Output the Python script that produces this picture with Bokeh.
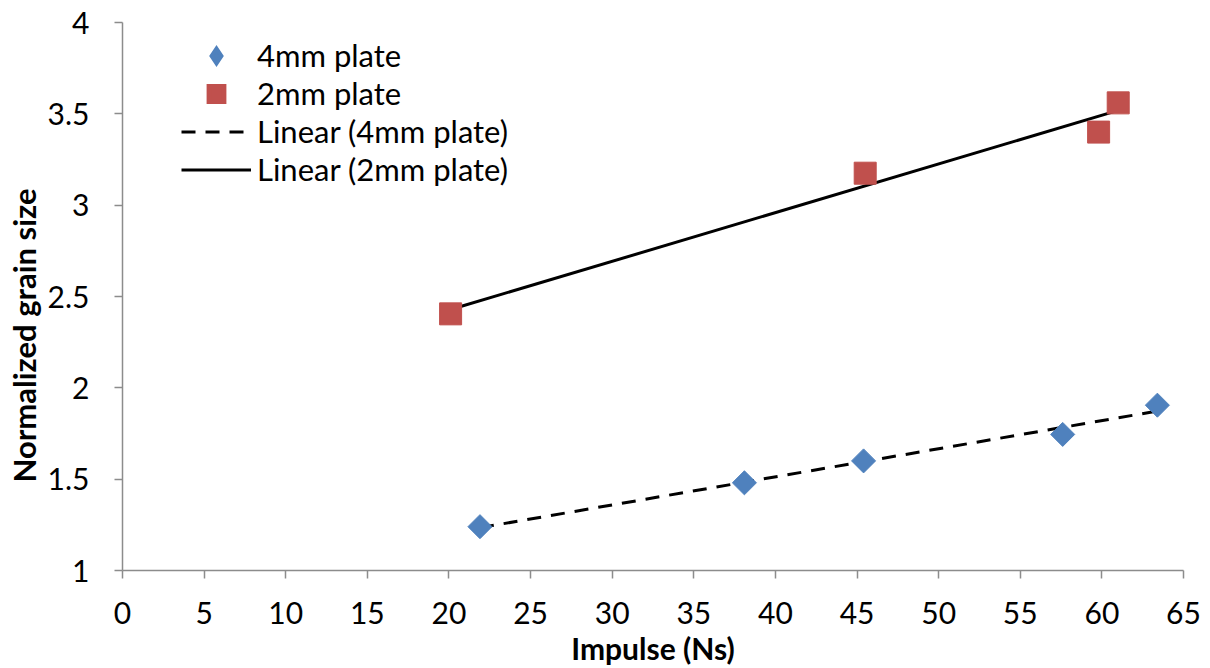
import numpy as np
from bokeh.plotting import figure
from bokeh.models import Range1d, FixedTicker, Legend, LegendItem, Title, ColumnDataSource
from bokeh.embed import file_html
from bokeh.resources import INLINE

# Data
x_4mm = [21.9, 38.1, 45.4, 57.6, 63.4]
y_4mm = [1.24, 1.48, 1.60, 1.745, 1.905]
x_2mm = [20.1, 45.5, 59.8, 61.0]
y_2mm = [2.405, 3.175, 3.40, 3.56]

x_ticks = [0, 5, 10, 15, 20, 25, 30, 35, 40, 45, 50, 55, 60, 65]
y_ticks = [1, 1.5, 2, 2.5, 3, 3.5, 4]
y_tick_labels = ["1", "1.5", "2", "2.5", "3", "3.5", "4"]

FONT = "Lato"
BLUE = "#4F81BD"
RED = "#C0504D"

p = figure(width=1210, height=668, output_backend="svg", toolbar_location=None,
           x_range=Range1d(0, 65), y_range=Range1d(1, 4),
           min_border_left=121, min_border_right=27, min_border_top=22, min_border_bottom=97)
p.outline_line_color = None
p.xgrid.visible = False
p.ygrid.visible = False

src4 = ColumnDataSource(dict(x=x_4mm, y=y_4mm))
src2 = ColumnDataSource(dict(x=x_2mm, y=y_2mm))

# trend lines (least squares fits)
k4, b4 = np.polyfit(x_4mm, y_4mm, 1)
k2, b2 = np.polyfit(x_2mm, y_2mm, 1)
tx4 = [min(x_4mm), max(x_4mm)]
tx2 = [min(x_2mm), max(x_2mm)]

r_l4 = p.line(tx4, [k4 * v + b4 for v in tx4], line_color="black", line_width=3, line_dash="14 10")
r_l2 = p.line(tx2, [k2 * v + b2 for v in tx2], line_color="black", line_width=3)

# legend keys: tiny marks drawn underneath the real markers (fully covered by them)
r4_key = p.scatter("x", "y", source=src4, marker="diamond", size=1,
                   fill_color=BLUE, line_color=BLUE, line_width=4, line_join="miter")
r2_key = p.scatter("x", "y", source=src2, marker="square", size=1,
                   fill_color=RED, line_color=RED, line_width=5, line_join="miter")

r4 = p.scatter("x", "y", source=src4, marker="square", angle=np.pi / 4, size=17,
               fill_color=BLUE, line_color=BLUE)
r2 = p.scatter("x", "y", source=src2, marker="square", size=22, fill_color=RED, line_color=RED)

legend = Legend(items=[
    LegendItem(label="4mm plate", renderers=[r4_key]),
    LegendItem(label="2mm plate", renderers=[r2_key]),
    LegendItem(label="Linear (4mm plate)", renderers=[r_l4]),
    LegendItem(label="Linear (2mm plate)", renderers=[r_l2]),
], location=(59, 382))
legend.border_line_color = None
legend.background_fill_alpha = 0
legend.padding = 0
legend.margin = 0
legend.spacing = 0
legend.glyph_width = 70
legend.glyph_height = 37
legend.label_height = 37
legend.label_standoff = 6
legend.label_text_font = FONT
legend.label_text_font_size = "31px"
legend.label_text_color = "black"
p.add_layout(legend, "center")

for ax in (p.xaxis[0], p.yaxis[0]):
    ax.axis_line_color = "#8c8c8c"
    ax.axis_line_width = 1.5
    ax.major_tick_line_color = "#8c8c8c"
    ax.major_tick_line_width = 1.5
    ax.major_tick_out = 8
    ax.major_tick_in = 0
    ax.minor_tick_line_color = None
    ax.major_label_text_font = FONT
    ax.major_label_text_font_size = "30px"
    ax.major_label_text_color = "black"
    ax.axis_label_text_font = FONT
    ax.axis_label_text_font_size = "30px"
    ax.axis_label_text_font_style = "bold"
    ax.axis_label_text_color = "black"

p.xaxis.ticker = FixedTicker(ticks=x_ticks)
p.yaxis.ticker = FixedTicker(ticks=y_ticks)
p.yaxis.major_label_overrides = {t: l for t, l in zip(y_ticks, y_tick_labels)}
p.xaxis.axis_label = "Impulse (Ns)"
p.xaxis.major_label_standoff = 23
p.yaxis.major_label_standoff = 25
p.xaxis.axis_label_standoff = 3

ytitle = Title(text="Normalized grain size", align="left", offset=88, standoff=4,
               text_font=FONT, text_font_size="31px", text_font_style="bold",
               text_color="black")
p.add_layout(ytitle, "left")

open("out.html", "w").write(file_html(p, INLINE))
